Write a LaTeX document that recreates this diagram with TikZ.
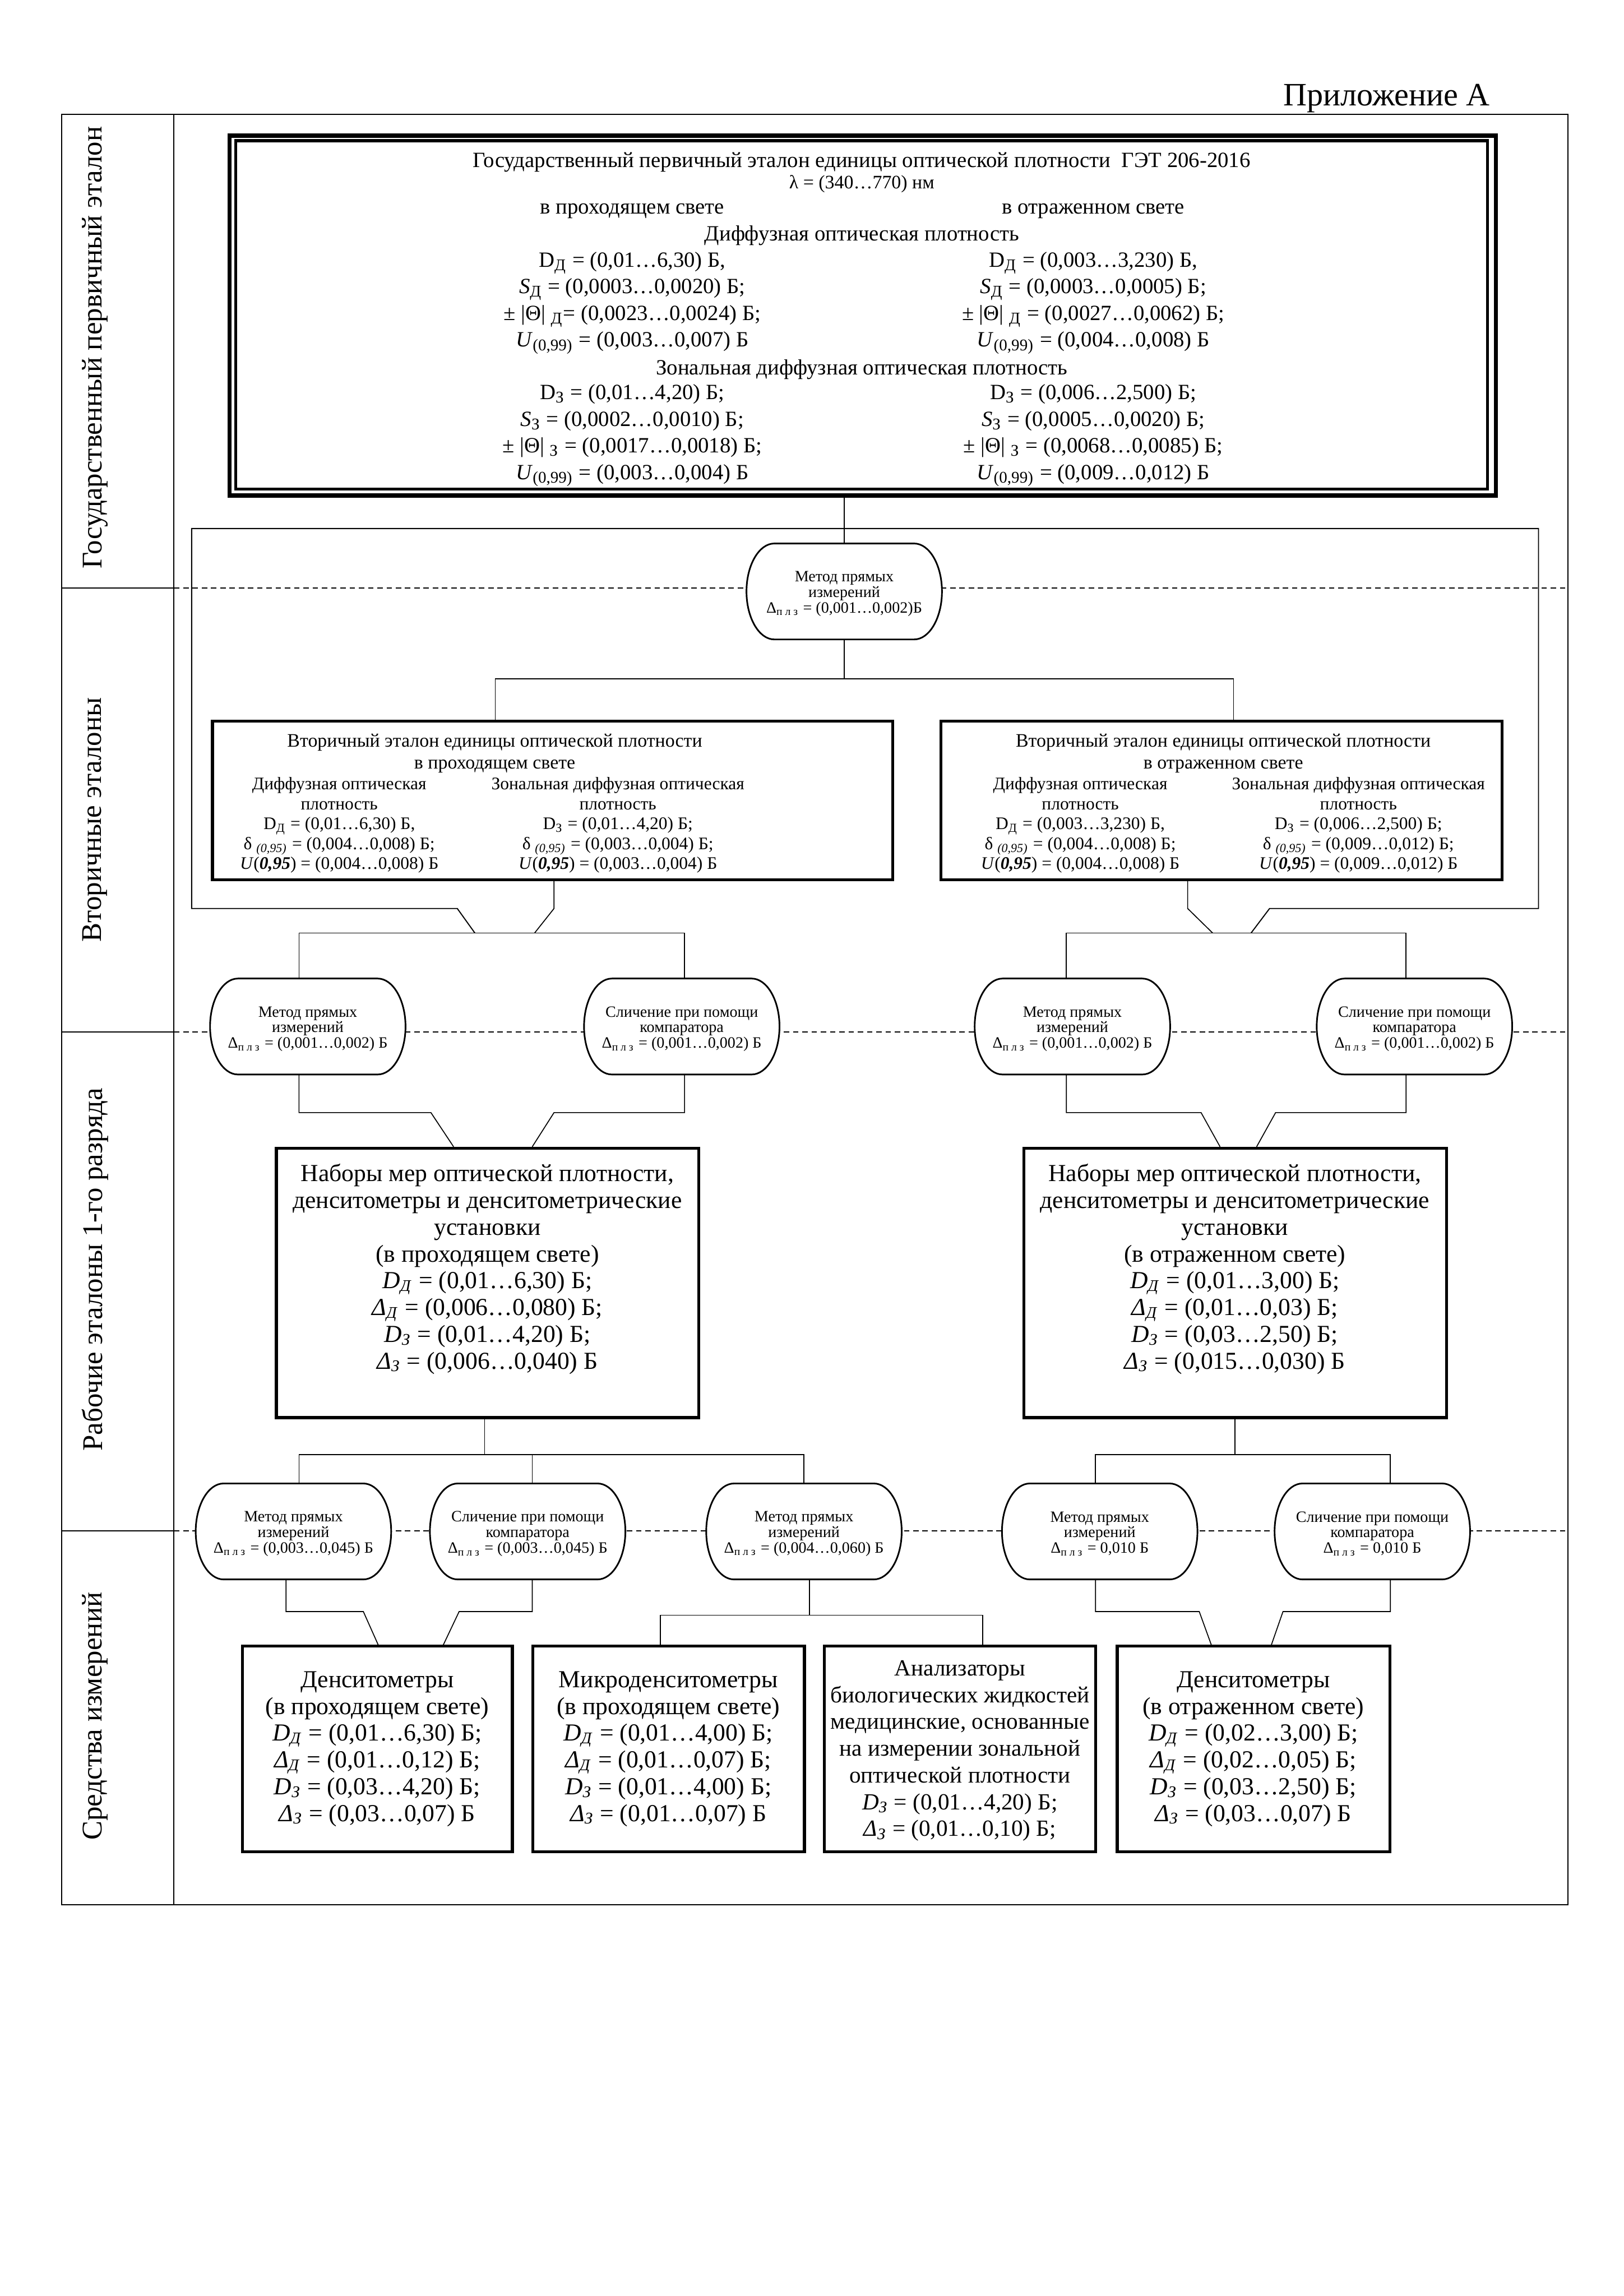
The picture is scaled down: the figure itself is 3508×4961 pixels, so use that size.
\documentclass[tikz,border=0pt]{standalone}
\usepackage{fontspec}
\setmainfont{Liberation Serif}
\usetikzlibrary{fit}
\newcommand\sbs[1]{\textsubscript{#1}}
\newcommand\myDd{\textit{D}\sbs{\textit{Д}}}
\newcommand\myDz{\textit{D}\sbs{\textit{З}}}
\newcommand\myXd{\textit{Δ}\sbs{\textit{Д}}}
\newcommand\myXz{\textit{Δ}\sbs{\textit{З}}}
\newcommand\myUn{\textit{U}(\textit{\textbf{0,95}})}
\newcommand\myDel{δ \sbs{\textit{(0,95)}}}
\newcommand\ovalpath[1]{%
  \draw[ovl] ([xshift=3.6mm]#1.north west) -- ([xshift=-3.6mm]#1.north east)
    .. controls +(1.99mm,0) and +(0,3.39mm) .. (#1.east)
    .. controls +(0,-3.39mm) and +(1.99mm,0) .. ([xshift=-3.6mm]#1.south east)
    -- ([xshift=3.6mm]#1.south west)
    .. controls +(-1.99mm,0) and +(0,-3.39mm) .. (#1.west)
    .. controls +(0,3.39mm) and +(-1.99mm,0) .. ([xshift=3.6mm]#1.north west) -- cycle;}
\begin{document}
\begin{tikzpicture}[x=0.05986mm,y=-0.05986mm,
  conn/.style={line width=0.35pt},
  frm/.style={line width=0.4pt},
  dsh/.style={line width=0.45pt, dash pattern=on 2pt off 1.4pt},
  boxb/.style={draw, line width=1.1pt, inner sep=0pt},
  hole/.style={inner sep=0pt, minimum width=25.14mm, minimum height=12.27mm},
  ovl/.style={draw, line width=0.6pt, fill=white},
  tA/.style={font=\fontsize{8}{9.8}\selectfont, align=center, inner sep=0pt},
  tS/.style={font=\fontsize{7}{8}\selectfont, align=center, inner sep=0pt},
  tC/.style={font=\fontsize{6.5}{7.35}\selectfont, align=center, inner sep=0pt},
  tW/.style={font=\fontsize{9}{9.85}\selectfont, align=center, inner sep=0pt},
  tO/.style={font=\fontsize{5.8}{5.7}\selectfont, align=center, inner sep=0pt},
  tG/.style={font=\fontsize{10.5}{12}\selectfont, rotate=90, inner sep=0pt},
]
\useasboundingbox (0,0) rectangle (3508,4961);

% ---------- page frame and band column ----------
\node[font=\fontsize{12}{14}\selectfont, inner sep=0pt] (app) at (2996,212) {Приложение А};
\draw[frm] (133,247) rectangle (3388,4115);
\draw[frm] (376,247) -- (376,4115);
\foreach \yy in {1271,2230,3308} {
  \draw[frm] (133,\yy) -- (376,\yy);
  \draw[dsh] (376,\yy) -- (3388,\yy);
}
\node[tG] (g1) at (205,751) {Государственный первичный эталон};
\node[tG] (g2) at (205,1771) {Вторичные эталоны};
\node[tG] (g3) at (205,2743) {Рабочие эталоны 1-го разряда};
\node[tG] (g4) at (205,3708) {Средства измерений};

% ---------- primary standard ----------
\node[draw, line width=1.6pt, inner sep=0pt, fit={(496,293) (3232,1071)}] (top) {};
\draw[line width=1.1pt] (509,304) rectangle (3214,1057);
\node[tA] (t1) at (1862,350) {Государственный первичный эталон единицы оптической плотности\ \ ГЭТ 206-2016};
\node[tA, font=\fontsize{7}{8}\selectfont] (t2) at (1862,398) {λ = (340…770) нм};
\node[tA] (t3) at (1366,456) {в проходящем свете};
\node[tA] (t4) at (2362,456) {в отраженном свете};
\node[tA] (t5) at (1862,509) {Диффузная оптическая плотность};
\node[tA] (t6) at (1366,655) {D\sbs{Д} = (0,01…6,30) Б,\\
  \textit{S}\sbs{Д} = (0,0003…0,0020) Б;\\
  ± |Θ| \sbs{Д}= (0,0023…0,0024) Б;\\
  \textit{U}\sbs{(0,99)} = (0,003…0,007) Б};
\node[tA] (t7) at (2362,655) {D\sbs{Д} = (0,003…3,230) Б,\\
  \textit{S}\sbs{Д} = (0,0003…0,0005) Б;\\
  ± |Θ| \sbs{Д} = (0,0027…0,0062) Б;\\
  \textit{U}\sbs{(0,99)} = (0,004…0,008) Б};
\node[tA] (t8) at (1862,799) {Зональная диффузная оптическая плотность};
\node[tA] (t9) at (1366,941) {D\sbs{З} = (0,01…4,20) Б;\\
  \textit{S}\sbs{З} = (0,0002…0,0010) Б;\\
  ± |Θ| \sbs{З} = (0,0017…0,0018) Б;\\
  \textit{U}\sbs{(0,99)} = (0,003…0,004) Б};
\node[tA] (t10) at (2362,941) {D\sbs{З} = (0,006…2,500) Б;\\
  \textit{S}\sbs{З} = (0,0005…0,0020) Б;\\
  ± |Θ| \sbs{З} = (0,0068…0,0085) Б;\\
  \textit{U}\sbs{(0,99)} = (0,009…0,012) Б};

% ---------- secondary standards ----------
\node[boxb, fit={(459,1558) (1929,1901)}] (sec1) {};
\node[tS] (s1a) at (1069,1628) {Вторичный эталон единицы оптической плотности\\в проходящем свете};
\node[tC] (s1b) at (733,1783) {Диффузная оптическая\\плотность\\D\sbs{Д} = (0,01…6,30) Б,\\\myDel{} = (0,004…0,008) Б;\\\myUn{} = (0,004…0,008) Б};
\node[tC] (s1c) at (1335,1783) {Зональная диффузная оптическая\\плотность\\D\sbs{З} = (0,01…4,20) Б;\\\myDel{} = (0,003…0,004) Б;\\\myUn{} = (0,003…0,004) Б};
\node[boxb, fit={(2033,1558) (3245,1901)}] (sec2) {};
\node[tS] (s2a) at (2643,1628) {Вторичный эталон единицы оптической плотности\\в отраженном свете};
\node[tC] (s2b) at (2334,1783) {Диффузная оптическая\\плотность\\D\sbs{Д} = (0,003…3,230) Б,\\\myDel{} = (0,004…0,008) Б;\\\myUn{} = (0,004…0,008) Б};
\node[tC] (s2c) at (2935,1783) {Зональная диффузная оптическая\\плотность\\D\sbs{З} = (0,006…2,500) Б;\\\myDel{} = (0,009…0,012) Б;\\\myUn{} = (0,009…0,012) Б};

% ---------- working standards ----------
\node[boxb, fit={(597,2481) (1510,3063)}] (work1) {};
\node[tW] (w1) at (1053,2742) {Наборы мер оптической плотности,\\денситометры и денситометрические\\установки\\(в проходящем свете)\\
  \myDd{} = (0,01…6,30) Б;\\\myXd{} = (0,006…0,080) Б;\\\myDz{} = (0,01…4,20) Б;\\\myXz{} = (0,006…0,040) Б};
\node[boxb, fit={(2212,2481) (3125,3063)}] (work2) {};
\node[tW] (w2) at (2668,2742) {Наборы мер оптической плотности,\\денситометры и денситометрические\\установки\\(в отраженном свете)\\
  \myDd{} = (0,01…3,00) Б;\\\myXd{} = (0,01…0,03) Б;\\\myDz{} = (0,03…2,50) Б;\\\myXz{} = (0,015…0,030) Б};

% ---------- measuring instruments ----------
\node[boxb, fit={(524,3557) (1107,4001)}] (b1) {};
\node[tW] (m1) at (815,3779) {Денситометры\\(в проходящем свете)\\\myDd{} = (0,01…6,30) Б;\\\myXd{} = (0,01…0,12) Б;\\\myDz{} = (0,03…4,20) Б;\\\myXz{} = (0,03…0,07) Б};
\node[boxb, fit={(1151,3557) (1738,4001)}] (b2) {};
\node[tW] (m2) at (1444,3779) {Микроденситометры\\(в проходящем свете)\\\myDd{} = (0,01…4,00) Б;\\\myXd{} = (0,01…0,07) Б;\\\myDz{} = (0,01…4,00) Б;\\\myXz{} = (0,01…0,07) Б};
\node[boxb, fit={(1781,3557) (2367,4001)}] (b3) {};
\node[tW, font=\fontsize{8.5}{9.85}\selectfont] (m3) at (2074,3783) {Анализаторы\\биологических жидкостей\\медицинские, основанные\\на измерении зональной\\оптической плотности\\\myDz{} = (0,01…4,20) Б;\\\myXz{} = (0,01…0,10) Б;};
\node[boxb, fit={(2414,3557) (3003,4001)}] (b4) {};
\node[tW] (m4) at (2708,3779) {Денситометры\\(в отраженном свете)\\\myDd{} = (0,02…3,00) Б;\\\myXd{} = (0,02…0,05) Б;\\\myDz{} = (0,03…2,50) Б;\\\myXz{} = (0,03…0,07) Б};

% ---------- oval placeholders ----------
\node[hole] (ov0) at (1824,1278) {};
\node[hole] (ovA) at (665,2218) {};
\node[hole] (ovB) at (1473,2218) {};
\node[hole] (ovC) at (2317,2218) {};
\node[hole] (ovD) at (3056,2218) {};
\node[hole] (o1) at (634,3309) {};
\node[hole] (o2) at (1140,3309) {};
\node[hole] (o3) at (1737,3309) {};
\node[hole] (o4) at (2376,3309) {};
\node[hole] (o5) at (2965,3309) {};

% ---------- connectors ----------
\draw[conn] (ov0.north |- top.south) -- (ov0.north);
\draw[conn] (ov0.south) -- (ov0.south |- 0,1467);
\draw[conn] (sec1.north -| 1070,0) -- (1070,1467) -- (2665,1467) -- (sec2.north -| 2665,0);
\draw[frm] (1026,2016) -- (988,1963) -- (414,1963) -- (414,1142) -- (3324,1142) -- (3324,1963) -- (2743,1963) -- (2703,2016);
\draw[conn] (sec1.south -| 1197,0) -- (1197,1963) -- (1155,2016);
\draw[conn] (sec2.south -| 2566,0) -- (2566,1963) -- (2620,2016);
\draw[conn] (ovA.north -| 646,0) -- (646,2016) -- (1479,2016) -- (ovB.north -| 1479,0);
\draw[conn] (ovC.north -| 2304,0) -- (2304,2016) -- (3038,2016) -- (ovD.north -| 3038,0);
\draw[conn] (ovA.south -| 646,0) -- (646,2404) -- (931,2404) -- (work1.north -| 980,0);
\draw[conn] (ovB.south -| 1479,0) -- (1479,2404) -- (1197,2404) -- (work1.north -| 1150,0);
\draw[conn] (ovC.south -| 2304,0) -- (2304,2404) -- (2595,2404) -- (work2.north -| 2636,0);
\draw[conn] (ovD.south -| 3038,0) -- (3038,2404) -- (2756,2404) -- (work2.north -| 2715,0);
\draw[conn] (work1.south -| 1047,0) -- (1047,3143);
\draw[conn] (o1.north -| 646,0) -- (646,3143) -- (1737,3143) -- (o3.north -| 1737,0);
\draw[conn] (o2.north -| 1150,0) -- (1150,3143);
\draw[conn] (work2.south -| 2668,0) -- (2668,3143);
\draw[conn] (o4.north -| 2367,0) -- (2367,3143) -- (3004,3143) -- (o5.north -| 3004,0);
\draw[conn] (o1.south -| 618,0) -- (618,3482) -- (785,3482) -- (b1.north -| 817,0);
\draw[conn] (o2.south -| 1150,0) -- (1150,3482) -- (992,3482) -- (b1.north -| 958,0);
\draw[conn] (o3.south -| 1749,0) -- (1749,3490);
\draw[conn] (b2.north -| 1427,0) -- (1427,3490) -- (2123,3490) -- (b3.north -| 2123,0);
\draw[conn] (o4.south -| 2367,0) -- (2367,3482) -- (2591,3482) -- (b4.north -| 2617,0);
\draw[conn] (o5.south -| 3004,0) -- (3004,3482) -- (2772,3482) -- (b4.north -| 2747,0);

% ---------- ovals ----------
\foreach \oo in {ov0,ovA,ovB,ovC,ovD,o1,o2,o3,o4,o5} {\ovalpath{\oo}}
\node[tO] at ([yshift=-0.3mm]ov0.center) {Метод прямых\\измерений\\Δ\sbs{п л з} = (0,001…0,002)Б};
\node[tO] at ([yshift=-0.3mm]ovA.center) {Метод прямых\\измерений\\Δ\sbs{п л з} = (0,001…0,002) Б};
\node[tO] at ([yshift=-0.3mm]ovB.center) {Сличение при помощи\\компаратора\\Δ\sbs{п л з} = (0,001…0,002) Б};
\node[tO] at ([yshift=-0.3mm]ovC.center) {Метод прямых\\измерений\\Δ\sbs{п л з} = (0,001…0,002) Б};
\node[tO] at ([yshift=-0.3mm]ovD.center) {Сличение при помощи\\компаратора\\Δ\sbs{п л з} = (0,001…0,002) Б};
\node[tO] at ([yshift=-0.3mm]o1.center) {Метод прямых\\измерений\\Δ\sbs{п л з} = (0,003…0,045) Б};
\node[tO] at ([yshift=-0.3mm]o2.center) {Сличение при помощи\\компаратора\\Δ\sbs{п л з} = (0,003…0,045) Б};
\node[tO] at ([yshift=-0.3mm]o3.center) {Метод прямых\\измерений\\Δ\sbs{п л з} = (0,004…0,060) Б};
\node[tO] at ([yshift=-0.3mm]o4.center) {Метод прямых\\измерений\\Δ\sbs{п л з} = 0,010 Б};
\node[tO] at ([yshift=-0.3mm]o5.center) {Сличение при помощи\\компаратора\\Δ\sbs{п л з} = 0,010 Б};
\end{tikzpicture}
\end{document}
